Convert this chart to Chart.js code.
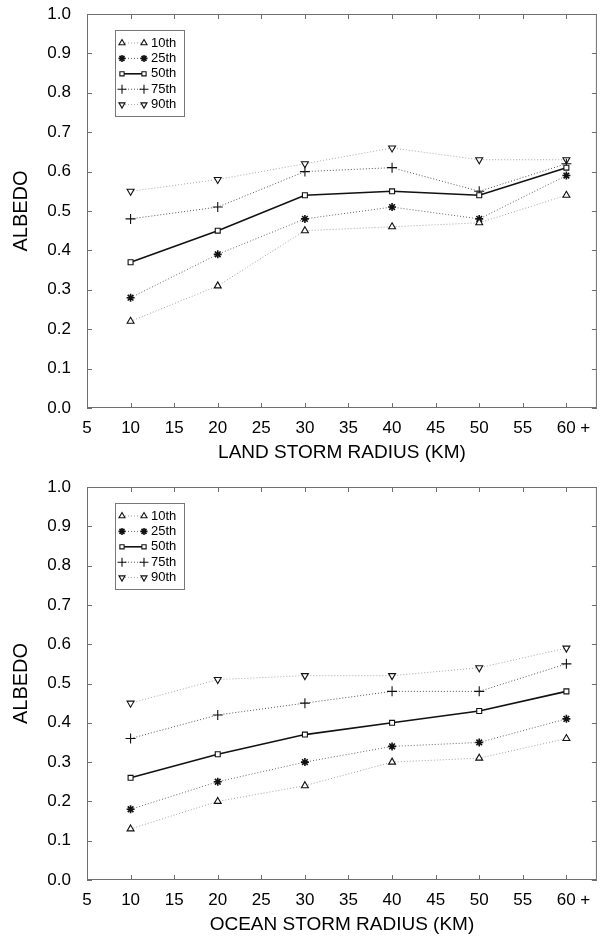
<!DOCTYPE html>
<html>
<head>
<meta charset="utf-8">
<script src="https://cdn.jsdelivr.net/npm/chart.js@4.4.1/dist/chart.umd.min.js"></script>
<style>
  body { margin: 0; background: #fff; }
  canvas { display: block; }
</style>
</head>
<body>
<canvas id="land" width="603" height="470"></canvas>
<canvas id="ocean" width="603" height="467"></canvas>
<script>
// storm radius (km) for each point
const RADII = [10, 20, 30, 40, 50, 60];
const X_TICKS = [5, 10, 15, 20, 25, 30, 35, 40, 45, 50, 55, 60];
const PERCENTILES = ['10th', '25th', '50th', '75th', '90th'];

// land storms
const LAND_P10 = [0.22, 0.31, 0.45, 0.46, 0.47, 0.54];
const LAND_P25 = [0.28, 0.39, 0.48, 0.51, 0.48, 0.59];
const LAND_P50 = [0.37, 0.45, 0.54, 0.55, 0.54, 0.61];
const LAND_P75 = [0.48, 0.51, 0.60, 0.61, 0.55, 0.62];
const LAND_P90 = [0.55, 0.58, 0.62, 0.66, 0.63, 0.63];

// ocean storms
const OCEAN_P10 = [0.13, 0.20, 0.24, 0.30, 0.31, 0.36];
const OCEAN_P25 = [0.18, 0.25, 0.30, 0.34, 0.35, 0.41];
const OCEAN_P50 = [0.26, 0.32, 0.37, 0.40, 0.43, 0.48];
const OCEAN_P75 = [0.36, 0.42, 0.45, 0.48, 0.48, 0.55];
const OCEAN_P90 = [0.45, 0.51, 0.52, 0.52, 0.54, 0.59];

const FONT = '"Liberation Sans", Arial, Helvetica, sans-serif';

const STYLES = [
  { borderColor: '#a3a3a3', borderWidth: 1, borderDash: [1, 2], pointStyle: 'triangle', pointRadius: 4, pointRotation: 0 },
  { borderColor: '#666', borderWidth: 1, borderDash: [1, 2], pointStyle: 'star', pointRadius: 4, pointRotation: 0 },
  { borderColor: '#111', borderWidth: 1.6, borderDash: [], pointStyle: 'rect', pointRadius: 3.5, pointRotation: 0 },
  { borderColor: '#555', borderWidth: 1, borderDash: [1, 2], pointStyle: 'cross', pointRadius: 5, pointRotation: 0 },
  { borderColor: '#a8a8a8', borderWidth: 1, borderDash: [1, 2], pointStyle: 'triangle', pointRadius: 4, pointRotation: 180 }
];

function makeDatasets(series) {
  return series.map((vals, i) => ({
    label: PERCENTILES[i],
    data: vals.map((v, j) => ({ x: RADII[j], y: v })),
    borderColor: STYLES[i].borderColor,
    borderWidth: STYLES[i].borderWidth,
    borderDash: STYLES[i].borderDash,
    pointStyle: STYLES[i].pointStyle,
    pointRadius: STYLES[i].pointRadius,
    pointRotation: STYLES[i].pointRotation,
    pointBorderColor: '#111',
    pointBackgroundColor: '#fff',
    pointBorderWidth: i === 1 ? 1.6 : 1.1,
    fill: false,
    tension: 0
  }));
}

// box round the plot with short ticks pointing inward on all sides
const framePlugin = {
  id: 'frame',
  beforeDatasetsDraw(chart) {
    const { ctx, chartArea: a, scales: { x, y } } = chart;
    ctx.save();
    ctx.strokeStyle = '#6f6f6f';
    ctx.lineWidth = 1;
    ctx.strokeRect(a.left + 0.5, a.top + 0.5, a.right - a.left - 1, a.bottom - a.top - 1);
    ctx.beginPath();
    x.ticks.forEach(t => {
      const px = Math.round(x.getPixelForValue(t.value)) + 0.5;
      ctx.moveTo(px, a.bottom); ctx.lineTo(px, a.bottom - 5);
      ctx.moveTo(px, a.top); ctx.lineTo(px, a.top + 5);
    });
    y.ticks.forEach(t => {
      const py = Math.round(y.getPixelForValue(t.value)) + 0.5;
      ctx.moveTo(a.left, py); ctx.lineTo(a.left + 5, py);
      ctx.moveTo(a.right, py); ctx.lineTo(a.right - 5, py);
    });
    ctx.stroke();
    ctx.restore();
  }
};

// legend drawn as a boxed key inside the plot, line with a marker at each end
const legendBox = {
  id: 'legendBox',
  afterDatasetsDraw(chart) {
    const { ctx, chartArea: a } = chart;
    const bx = a.left + 28, by = a.top + 16, bw = 69, bh = 86;
    ctx.save();
    ctx.fillStyle = '#fff';
    ctx.fillRect(bx, by, bw, bh);
    ctx.strokeStyle = '#777';
    ctx.lineWidth = 1;
    ctx.strokeRect(bx + 0.5, by + 0.5, bw, bh);
    chart.data.datasets.forEach((ds, i) => {
      const yy = by + 13 + i * 15.4;
      ctx.strokeStyle = ds.borderColor;
      ctx.lineWidth = ds.borderWidth;
      ctx.setLineDash(ds.borderDash);
      ctx.beginPath();
      ctx.moveTo(bx + 7, yy);
      ctx.lineTo(bx + 29, yy);
      ctx.stroke();
      ctx.setLineDash([]);
      ctx.strokeStyle = '#111';
      ctx.fillStyle = '#fff';
      const opts = { pointStyle: ds.pointStyle, rotation: ds.pointRotation, radius: ds.pointRadius - 0.5, borderWidth: ds.pointBorderWidth };
      ctx.lineWidth = ds.pointBorderWidth;
      Chart.helpers.drawPoint(ctx, opts, bx + 7, yy);
      Chart.helpers.drawPoint(ctx, opts, bx + 29, yy);
      ctx.fillStyle = '#000';
      ctx.font = '13px ' + FONT;
      ctx.textBaseline = 'middle';
      ctx.fillText(ds.label, bx + 36, yy);
    });
    ctx.restore();
  }
};

function makeChart(id, series, xTitle, topPad, xHeight, titlePad) {
  return new Chart(document.getElementById(id), {
    type: 'line',
    data: { datasets: makeDatasets(series) },
    plugins: [framePlugin, legendBox],
    options: {
      responsive: false,
      animation: false,
      layout: { padding: { top: topPad, right: 0, left: 0, bottom: 0 } },
      plugins: { legend: { display: false }, tooltip: { enabled: false } },
      scales: {
        x: {
          type: 'linear',
          min: 5,
          max: 63.5,
          afterBuildTicks: s => { s.ticks = X_TICKS.map(v => ({ value: v })); },
          afterFit: s => { s.height = xHeight; s.paddingRight = 0; },
          // tick marks are drawn by the frame plugin; tickLength only spaces the labels
          grid: { display: false, drawTicks: true, tickLength: 10 },
          border: { display: false },
          ticks: {
            color: '#000',
            padding: 0,
            maxRotation: 0,
            autoSkip: false,
            font: { family: FONT, size: 17 },
            callback: v => v === 60 ? '   60 +' : String(v)
          },
          title: { display: true, text: xTitle, color: '#000', font: { family: FONT, size: 19 }, padding: { top: 0, bottom: titlePad } }
        },
        y: {
          min: 0,
          max: 1,
          afterFit: s => { s.width = 87; },
          grid: { display: false, drawTicks: true, tickLength: 16 },
          border: { display: false },
          ticks: {
            stepSize: 0.1,
            color: '#000',
            padding: 0,
            font: { family: FONT, size: 17 },
            callback: v => v.toFixed(1)
          },
          title: { display: true, text: 'ALBEDO', color: '#000', font: { family: FONT, size: 20 }, padding: { top: 9, bottom: 0 } }
        }
      }
    }
  });
}

makeChart('land', [LAND_P10, LAND_P25, LAND_P50, LAND_P75, LAND_P90], 'LAND STORM RADIUS (KM)', 14, 62, 6);
makeChart('ocean', [OCEAN_P10, OCEAN_P25, OCEAN_P50, OCEAN_P75, OCEAN_P90], 'OCEAN STORM RADIUS (KM)', 17, 57, 1);
</script>
</body>
</html>
